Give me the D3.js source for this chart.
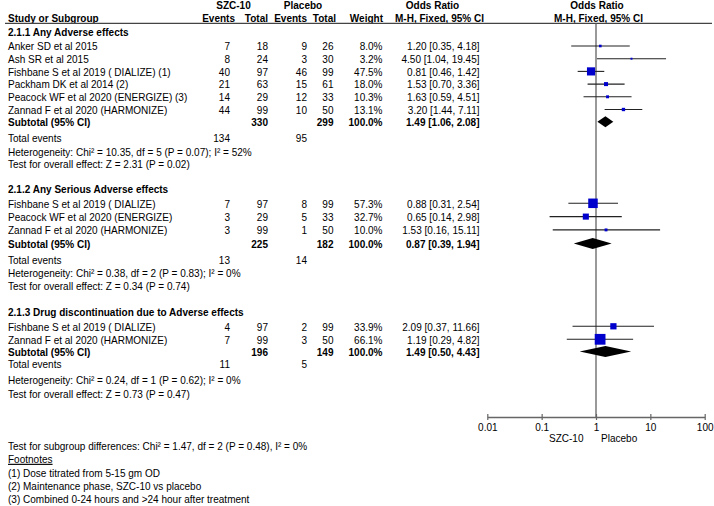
<!DOCTYPE html>
<html>
<head>
<meta charset="utf-8">
<script src="https://cdn.jsdelivr.net/npm/d3@7"></script>
<style>
  html, body { margin: 0; padding: 0; background: #fff; }
  svg text { font-family: "Liberation Sans", Arial, sans-serif; font-size: 11.6px; fill: #000; }
</style>
</head>
<body>
<svg id="chart" width="714" height="506"></svg>
<script>
// ---------- DATA ----------
const groupTitles = [
  "2.1.1 Any Adverse effects",
  "2.1.2 Any Serious Adverse effects",
  "2.1.3 Drug discontinuation due to Adverse effects"
];
const studyNames = [
  "Anker SD et al 2015",
  "Ash SR et al 2015",
  "Fishbane S et al 2019 ( DIALIZE) (1)",
  "Packham DK et al 2014 (2)",
  "Peacock WF et al 2020 (ENERGIZE) (3)",
  "Zannad F et al 2020 (HARMONIZE)",
  "Fishbane S et al 2019 ( DIALIZE)",
  "Peacock WF et al 2020 (ENERGIZE)",
  "Zannad F et al 2020 (HARMONIZE)",
  "Fishbane S et al 2019 ( DIALIZE)",
  "Zannad F et al 2020 (HARMONIZE)"
];
const studyGroup = [0, 0, 0, 0, 0, 0, 1, 1, 1, 2, 2];
const szcEvents  = [7, 8, 40, 21, 14, 44, 7, 3, 3, 4, 7];
const szcTotal   = [18, 24, 97, 63, 29, 99, 97, 29, 99, 97, 99];
const plcEvents  = [9, 3, 46, 15, 12, 10, 8, 5, 1, 2, 3];
const plcTotal   = [26, 30, 99, 61, 33, 50, 99, 33, 50, 99, 50];
const weights    = [8.0, 3.2, 47.5, 18.0, 10.3, 13.1, 57.3, 32.7, 10.0, 33.9, 66.1];
const orEst      = [1.20, 4.50, 0.81, 1.53, 1.63, 3.20, 0.88, 0.65, 1.53, 2.09, 1.19];
const orLow      = [0.35, 1.04, 0.46, 0.70, 0.59, 1.44, 0.31, 0.14, 0.16, 0.37, 0.29];
const orHigh     = [4.18, 19.45, 1.42, 3.36, 4.51, 7.11, 2.54, 2.98, 15.11, 11.66, 4.82];

const subSzcTotal  = [330, 225, 196];
const subPlcTotal  = [299, 182, 149];
const subWeight    = [100.0, 100.0, 100.0];
const subOr        = [1.49, 0.87, 1.49];
const subLow       = [1.06, 0.39, 0.50];
const subHigh      = [2.08, 1.94, 4.43];
const subSzcEvents = [134, 13, 11];
const subPlcEvents = [95, 14, 5];
const hetChi = ["10.35", "0.38", "0.24"];
const hetDf  = [5, 2, 1];
const hetP   = ["0.07", "0.83", "0.62"];
const hetI2  = [52, 0, 0];
const zVal   = ["2.31", "0.34", "0.73"];
const zP     = ["0.02", "0.74", "0.47"];

const axisTicks = [0.01, 0.1, 1, 10, 100];
const axisTickLabels = ["0.01", "0.1", "1", "10", "100"];
const favourLabels = ["SZC-10", "Placebo"];
const subgroupTest = "Test for subgroup differences: Chi² = 1.47, df = 2 (P = 0.48), I² = 0%";
const footnotes = [
  "(1) Dose titrated from 5-15 gm OD",
  "(2) Maintenance phase, SZC-10 vs placebo",
  "(3) Combined 0-24 hours and >24 hour after treatment"
];

// ---------- LAYOUT ----------
const svg = d3.select("#chart");
const BL = 4.2;      // baseline offset from visual text center
const SX = 0.865;    // horizontal squeeze of glyphs to match the reference face
const headingY = [31.7, 189, 312];
const studyStep = [12.7, 13.3, 13];
const firstStudyOff = 14.3;
const subtotalY = [121.7, 243.5, 351.5];
const totalY = [138, 260, 364];
const hetY = [151.5, 273, 380];
const testY = [164, 286, 394];
const axisY = 417;
const lineTop = 23.3;

const col = { name: 8, szcE: 230, szcT: 268, plcE: 307, plcT: 333.5, wt: 382.5, or: 479.5 };

const x = d3.scaleLog().domain([0.01, 100]).range([487.3, 704.7]);
const boxSize = d3.scaleLinear().domain([0, 100]).range([1.5, 15.5]);

// study y positions
const studyY = [];
const counters = [0, 0, 0];
studyNames.forEach((n, i) => {
  const g = studyGroup[i];
  studyY.push(headingY[g] + firstStudyOff + counters[g] * studyStep[g]);
  counters[g]++;
});

function txt(xp, yc, s, anchor = "start", bold = false, parent = svg) {
  return parent.append("text")
    .attr("transform", `translate(${xp},${yc + BL}) scale(${SX},1)`)
    .attr("text-anchor", anchor)
    .attr("font-weight", bold ? "bold" : "normal")
    .text(s);
}

// ---------- HEADERS ----------
txt(233.5, 5, "SZC-10", "middle", true);
txt(303, 5, "Placebo", "middle", true);
txt(432.5, 5, "Odds Ratio", "middle", true);
txt(597, 5, "Odds Ratio", "middle", true);
txt(col.name, 17.5, "Study or Subgroup", "start", true);
txt(235, 17.5, "Events", "end", true);
txt(268, 17.5, "Total", "end", true);
txt(307, 17.5, "Events", "end", true);
txt(336, 17.5, "Total", "end", true);
txt(383, 17.5, "Weight", "end", true);
txt(439.5, 17.5, "M-H, Fixed, 95% CI", "middle", true);
txt(598.5, 17.5, "M-H, Fixed, 95% CI", "middle", true);

svg.append("line")
  .attr("x1", 5).attr("x2", 712)
  .attr("y1", lineTop).attr("y2", lineTop)
  .attr("stroke", "#444").attr("stroke-width", 1.3);

// ---------- NULL LINE + AXIS ----------
svg.append("line")
  .attr("x1", x(1)).attr("x2", x(1))
  .attr("y1", lineTop).attr("y2", axisY)
  .attr("stroke", "#555").attr("stroke-width", 1.2);

const axis = d3.axisBottom(x)
  .tickValues(axisTicks)
  .tickFormat((d, i) => axisTickLabels[i])
  .tickSizeInner(3)
  .tickSizeOuter(0);
const axG = svg.append("g").attr("transform", `translate(0,${axisY})`).call(axis);
axG.select(".domain").attr("stroke", "#666").attr("stroke-width", 1.5);
axG.selectAll(".tick line").attr("stroke", "#666").attr("stroke-width", 1.2).attr("y1", -3).attr("y2", 3);
axG.selectAll(".tick text")
  .attr("y", 0).attr("dy", "0")
  .attr("transform", `translate(0,${10 + BL}) scale(${SX},1)`)
  .attr("font-size", "11.6px")
  .style("font-family", '"Liberation Sans", Arial, sans-serif')
  .attr("fill", "#000");

txt(x(1) - 12.5, 438, favourLabels[0], "end");
txt(x(1) + 5, 438, favourLabels[1], "start");

// ---------- GROUPS ----------
groupTitles.forEach((t, g) => {
  txt(col.name, headingY[g], t, "start", true);
  // subtotal row
  txt(col.name, subtotalY[g], "Subtotal (95% CI)", "start", true);
  txt(col.szcT, subtotalY[g], subSzcTotal[g], "end", true);
  txt(col.plcT, subtotalY[g], subPlcTotal[g], "end", true);
  txt(col.wt, subtotalY[g], subWeight[g].toFixed(1) + "%", "end", true);
  txt(col.or, subtotalY[g], `${subOr[g].toFixed(2)} [${subLow[g].toFixed(2)}, ${subHigh[g].toFixed(2)}]`, "end", true);
  // total events
  txt(col.name, totalY[g], "Total events");
  txt(col.szcE, totalY[g], subSzcEvents[g], "end");
  txt(col.plcE, totalY[g], subPlcEvents[g], "end");
  txt(col.name, hetY[g], `Heterogeneity: Chi² = ${hetChi[g]}, df = ${hetDf[g]} (P = ${hetP[g]}); I² = ${hetI2[g]}%`);
  txt(col.name, testY[g], `Test for overall effect: Z = ${zVal[g]} (P = ${zP[g]})`);

  // diamond
  const yc = subtotalY[g];
  const h = 5.5;
  svg.append("path")
    .attr("d", `M${x(subLow[g])},${yc} L${x(subOr[g])},${yc - h} L${x(subHigh[g])},${yc} L${x(subOr[g])},${yc + h} Z`)
    .attr("fill", "#000");
});

// ---------- STUDIES ----------
studyNames.forEach((n, i) => {
  const y = studyY[i];
  txt(col.name, y, n);
  txt(col.szcE, y, szcEvents[i], "end");
  txt(col.szcT, y, szcTotal[i], "end");
  txt(col.plcE, y, plcEvents[i], "end");
  txt(col.plcT, y, plcTotal[i], "end");
  txt(col.wt, y, weights[i].toFixed(1) + "%", "end");
  txt(col.or, y, `${orEst[i].toFixed(2)} [${orLow[i].toFixed(2)}, ${orHigh[i].toFixed(2)}]`, "end");

  svg.append("line")
    .attr("x1", x(orLow[i])).attr("x2", x(orHigh[i]))
    .attr("y1", y).attr("y2", y)
    .attr("stroke", "#222").attr("stroke-width", 1.1);
  const s = boxSize(weights[i]);
  svg.append("rect")
    .attr("x", x(orEst[i]) - s / 2).attr("y", y - s / 2)
    .attr("width", s).attr("height", s)
    .attr("fill", "#0000cc");
});

// ---------- FOOTER ----------
txt(col.name, 445.5, subgroupTest);
txt(col.name, 458.5, "Footnotes").attr("text-decoration", "underline");
footnotes.forEach((f, i) => txt(col.name, 472.5 + i * 13.2, f));
</script>
</body>
</html>
